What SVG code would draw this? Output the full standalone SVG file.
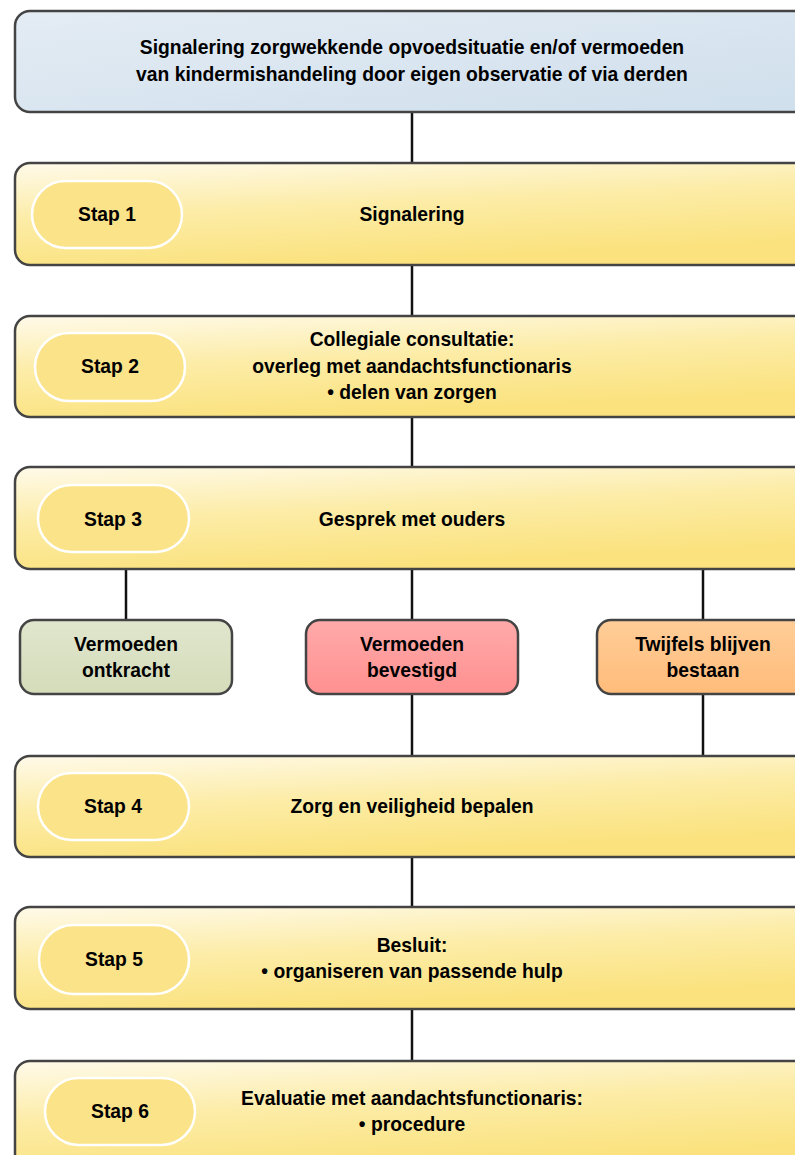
<svg xmlns="http://www.w3.org/2000/svg" width="795" height="1155" viewBox="0 0 795 1155">
<defs>
<linearGradient id="gBlue" x1="0" y1="0" x2="1" y2="1">
<stop offset="0" stop-color="#e4ecf4"/><stop offset="1" stop-color="#cfdfec"/>
</linearGradient>
<linearGradient id="gYel" x1="0" y1="0" x2="0.35" y2="1">
<stop offset="0" stop-color="#fffaea"/><stop offset="0.5" stop-color="#fcecA6"/><stop offset="1" stop-color="#fbe27e"/>
</linearGradient>
<linearGradient id="gGreen" x1="0" y1="0" x2="0" y2="1">
<stop offset="0" stop-color="#e0e6cd"/><stop offset="1" stop-color="#d4dcba"/>
</linearGradient>
<linearGradient id="gRed" x1="0" y1="0" x2="0" y2="1">
<stop offset="0" stop-color="#ffaaaa"/><stop offset="1" stop-color="#ff9090"/>
</linearGradient>
<linearGradient id="gOr" x1="0" y1="0" x2="0" y2="1">
<stop offset="0" stop-color="#ffcd98"/><stop offset="1" stop-color="#ffbc7a"/>
</linearGradient>
</defs>
<style>
.box{stroke:#444;stroke-width:2.5}
.big{fill:url(#gYel)}
.pill{fill:#fbe38a;stroke:#fff;stroke-width:2.5}
.t{font-family:"Liberation Sans",Arial,sans-serif;font-weight:bold;font-size:19.3px;fill:#000;text-anchor:middle}
.c{stroke:#111;stroke-width:2.5;fill:none}
</style>
<g id="connectors">
<line class="c" x1="412" y1="112" x2="412" y2="163" stroke="#555"/>
<line class="c" x1="412" y1="265" x2="412" y2="316"/>
<line class="c" x1="412" y1="417" x2="412" y2="467"/>
<line class="c" x1="126" y1="569" x2="126" y2="620"/>
<line class="c" x1="412" y1="569" x2="412" y2="620"/>
<line class="c" x1="703" y1="569" x2="703" y2="620"/>
<line class="c" x1="412" y1="694" x2="412" y2="756"/>
<line class="c" x1="703" y1="694" x2="703" y2="756"/>
<line class="c" x1="412" y1="857" x2="412" y2="907"/>
<line class="c" x1="412" y1="1009" x2="412" y2="1061"/>
</g>
<g id="start">
<rect class="box" x="15" y="11" width="800" height="101" rx="15" fill="url(#gBlue)"/>
<text class="t" x="412" y="54">Signalering zorgwekkende opvoedsituatie en/of vermoeden</text>
<text class="t" x="412" y="81">van kindermishandeling door eigen observatie of via derden</text>
</g>
<g id="stap1">
<rect class="box big" x="15" y="163" width="800" height="102" rx="15"/>
<rect class="pill" x="32" y="181" width="150" height="67" rx="33.5"/>
<text class="t" x="107" y="221">Stap 1</text>
<text class="t" x="412" y="221">Signalering</text>
</g>
<g id="stap2">
<rect class="box big" x="15" y="316" width="800" height="101" rx="15"/>
<rect class="pill" x="35" y="333" width="150" height="68" rx="34"/>
<text class="t" x="110" y="373">Stap 2</text>
<text class="t" x="412" y="346">Collegiale consultatie:</text>
<text class="t" x="412" y="373">overleg met aandachtsfunctionaris</text>
<text class="t" x="412" y="399">• delen van zorgen</text>
</g>
<g id="stap3">
<rect class="box big" x="15" y="467" width="800" height="102" rx="15"/>
<rect class="pill" x="38" y="485" width="151" height="67" rx="33.5"/>
<text class="t" x="113" y="526">Stap 3</text>
<text class="t" x="412" y="526">Gesprek met ouders</text>
</g>
<g id="ontkracht">
<rect class="box" x="20" y="620" width="212" height="74" rx="14" fill="url(#gGreen)"/>
<text class="t" x="126" y="651">Vermoeden</text>
<text class="t" x="126" y="677">ontkracht</text>
</g>
<g id="bevestigd">
<rect class="box" x="306" y="620" width="212" height="74" rx="14" fill="url(#gRed)"/>
<text class="t" x="412" y="651">Vermoeden</text>
<text class="t" x="412" y="677">bevestigd</text>
</g>
<g id="twijfels">
<rect class="box" x="597" y="620" width="215" height="74" rx="14" fill="url(#gOr)"/>
<text class="t" x="703" y="651">Twijfels blijven</text>
<text class="t" x="703" y="677">bestaan</text>
</g>
<g id="stap4">
<rect class="box big" x="15" y="756" width="800" height="101" rx="15"/>
<rect class="pill" x="38" y="773" width="151" height="67" rx="33.5"/>
<text class="t" x="113" y="813">Stap 4</text>
<text class="t" x="412" y="813">Zorg en veiligheid bepalen</text>
</g>
<g id="stap5">
<rect class="box big" x="15" y="907" width="800" height="102" rx="15"/>
<rect class="pill" x="39" y="925" width="150" height="69" rx="34.5"/>
<text class="t" x="114" y="966">Stap 5</text>
<text class="t" x="412" y="952">Besluit:</text>
<text class="t" x="412" y="978">• organiseren van passende hulp</text>
</g>
<g id="stap6">
<rect class="box big" x="15" y="1061" width="800" height="110" rx="15"/>
<rect class="pill" x="45" y="1078" width="150" height="67" rx="33.5"/>
<text class="t" x="120" y="1118">Stap 6</text>
<text class="t" x="412" y="1105">Evaluatie met aandachtsfunctionaris:</text>
<text class="t" x="412" y="1131">• procedure</text>
</g>
</svg>
